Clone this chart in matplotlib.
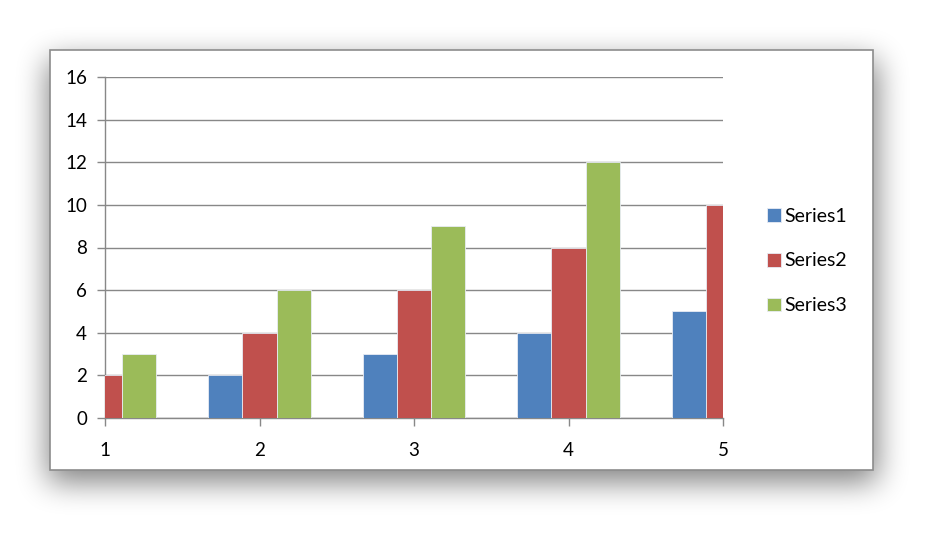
import numpy as np
import matplotlib
matplotlib.use('Agg')
import matplotlib.pyplot as plt
from matplotlib.patches import Rectangle

# Chart data
x_vals = [1, 2, 3, 4, 5]
series1 = [1, 2, 3, 4, 5]
series2 = [2, 4, 6, 8, 10]
series3 = [3, 6, 9, 12, 15]
names = ['Series1', 'Series2', 'Series3']
colors = ['#4F81BD', '#C0504D', '#9BBB59']

plt.rcParams['font.family'] = ['Lato', 'DejaVu Sans']

W, H = 940, 537
fig = plt.figure(figsize=(W / 100, H / 100), dpi=100)

# soft blurred shadow behind the chart frame
fx0, fy0, fx1, fy1 = 50, 50, 873, 470
mask = np.zeros((H, W))
mask[fy0 + 10:fy1 + 12, fx0 - 2:fx1 + 4] = 1.0


def box_blur(a, r, axis):
    k = np.ones(2 * r + 1) / (2 * r + 1)
    return np.apply_along_axis(lambda v: np.convolve(v, k, mode='same'), axis, a)


for _ in range(3):
    mask = box_blur(mask, 14, 0)
    mask = box_blur(mask, 14, 1)
shadow = np.zeros((H, W, 4))
shadow[..., 3] = mask * 0.5
fig.figimage(shadow, 0, 0, origin='upper', zorder=0)

frame = Rectangle((fx0 / W, 1 - fy1 / H), (fx1 - fx0) / W, (fy1 - fy0) / H,
                  transform=fig.transFigure, facecolor='white',
                  edgecolor='#8c8c8c', linewidth=1.2, zorder=1)
fig.patches.append(frame)

ax = fig.add_axes([105 / W, 1 - 418 / H, (723 - 105) / W, (418 - 77) / H])
ax.set_facecolor('none')
ax.set_zorder(2)

width = 0.222
x = np.array(x_vals, dtype=float)
for i, (vals, name, c) in enumerate(zip([series1, series2, series3], names, colors)):
    ax.bar(x + (i - 1) * width, vals, width, color=c, label=name,
           edgecolor='#e8ecf4', linewidth=0.6, zorder=3)

ax.set_xlim(1, 5)
ax.set_ylim(0, 16)
ax.set_yticks(range(0, 17, 2))
ax.set_xticks(x_vals)
ax.yaxis.grid(True, color='#888888', linewidth=1.0, zorder=0)
ax.set_axisbelow(True)
for s in ['top', 'right']:
    ax.spines[s].set_visible(False)
for s in ['left', 'bottom']:
    ax.spines[s].set_color('#888888')
    ax.spines[s].set_linewidth(1.0)
ax.tick_params(axis='both', colors='#888888', labelcolor='black', labelsize=13.5,
               length=6, width=1.0)
ax.tick_params(axis='x', pad=11)
ax.tick_params(axis='y', pad=7)

ax.legend(loc='center left', bbox_to_anchor=(767 / W, 1 - 261 / H),
          bbox_transform=fig.transFigure, frameon=False, fontsize=14,
          handlelength=0.7, handleheight=0.7, handletextpad=0.2,
          labelspacing=1.42, borderpad=0, borderaxespad=0)

fig.savefig('out.png', dpi=100)
